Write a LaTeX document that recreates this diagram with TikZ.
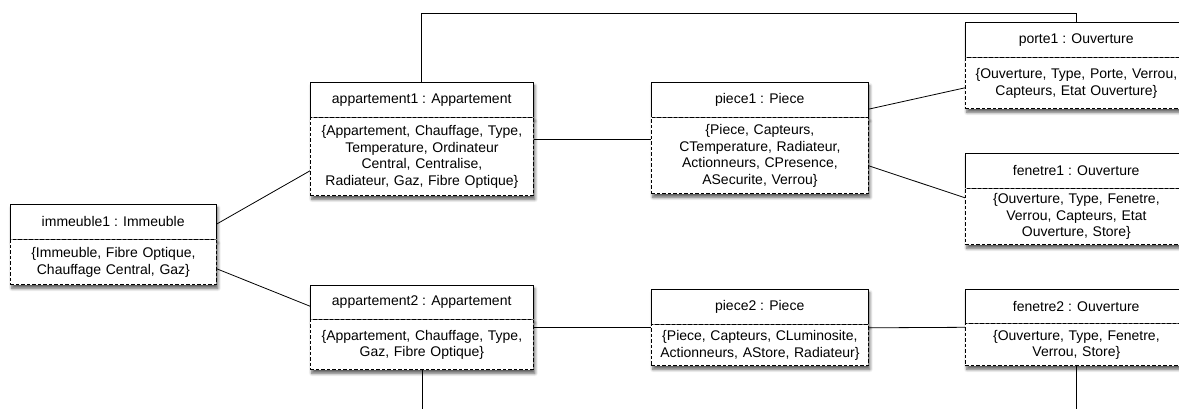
\documentclass[tikz,border=0pt]{standalone}
\usepackage{fontspec}
\setmainfont{Liberation Sans}
\usetikzlibrary{shadows,shadows.blur}
\tikzset{
  objfont/.style={font=\fontsize{14}{16.5}\selectfont},
  shade/.style={blur shadow={shadow xshift=1.5pt, shadow yshift=-3.5pt, shadow blur steps=6, shadow blur radius=3pt, shadow opacity=65}},
  ttl/.style={objfont, fill=white, inner sep=0pt, anchor=north west, align=center, shade},
  bdy/.style={objfont, draw, fill=white, inner sep=0pt, anchor=north west, align=center, dash pattern=on 3.5pt off 2pt, line width=0.8pt, shade},
  edge/.style={line width=0.8pt},
  link/.style={line width=0.8pt}
}
\begin{document}
\begin{tikzpicture}[x=1pt,y=-1pt]
\useasboundingbox (0,0) rectangle (1179,408);
\clip (0,0) rectangle (1179,408);
\coordinate (topy) at (0,13);
\coordinate (boty) at (0,440);

% immeuble1
\node[ttl, minimum width=206pt, minimum height=35pt] (imm-t) at (10,204) {immeuble1 : Immeuble};
\node[bdy, minimum width=206pt, text width=206pt, minimum height=45pt] (imm-b) at (imm-t.south west) {\{Immeuble, Fibre Optique,\\Chauffage Central, Gaz\}};
\draw[edge] (imm-t.south west) |- (imm-t.north east) -- (imm-t.south east);

% appartement1
\node[ttl, minimum width=223pt, minimum height=35pt] (app1-t) at (310,82) {appartement1 : Appartement};
\node[bdy, minimum width=223pt, text width=223pt, minimum height=78pt] (app1-b) at (app1-t.south west) {\{Appartement, Chauffage, Type,\\Temperature, Ordinateur\\Central, Centralise,\\Radiateur, Gaz, Fibre Optique\}};
\draw[edge] (app1-t.south west) |- (app1-t.north east) -- (app1-t.south east);

% piece1
\node[ttl, minimum width=217pt, minimum height=35pt] (piece1-t) at (651,82) {piece1 : Piece};
\node[bdy, minimum width=217pt, text width=217pt, minimum height=76pt] (piece1-b) at (piece1-t.south west) {\{Piece, Capteurs,\\CTemperature, Radiateur,\\Actionneurs, CPresence,\\ASecurite, Verrou\}};
\draw[edge] (piece1-t.south west) |- (piece1-t.north east) -- (piece1-t.south east);

% porte1
\node[ttl, minimum width=222pt, minimum height=35pt] (porte1-t) at (965,22) {porte1 : Ouverture};
\node[bdy, minimum width=222pt, text width=222pt, minimum height=51pt] (porte1-b) at (porte1-t.south west) {\{Ouverture, Type, Porte, Verrou,\\Capteurs, Etat Ouverture\}};
\draw[edge] (porte1-t.south west) |- (porte1-t.north east) -- (porte1-t.south east);

% fenetre1
\node[ttl, minimum width=222pt, minimum height=35pt] (fen1-t) at (965,153) {fenetre1 : Ouverture};
\node[bdy, minimum width=222pt, text width=222pt, minimum height=56pt] (fen1-b) at (fen1-t.south west) {\{Ouverture, Type, Fenetre,\\Verrou, Capteurs, Etat\\Ouverture, Store\}};
\draw[edge] (fen1-t.south west) |- (fen1-t.north east) -- (fen1-t.south east);

% appartement2
\node[ttl, minimum width=223pt, minimum height=34pt] (app2-t) at (310,285) {appartement2 : Appartement};
\node[bdy, minimum width=223pt, text width=223pt, minimum height=50pt] (app2-b) at (app2-t.south west) {\{Appartement, Chauffage, Type,\\Gaz, Fibre Optique\}};
\draw[edge] (app2-t.south west) |- (app2-t.north east) -- (app2-t.south east);

% piece2
\node[ttl, minimum width=217pt, minimum height=35pt] (piece2-t) at (651,289) {piece2 : Piece};
\node[bdy, minimum width=217pt, text width=217pt, minimum height=41pt] (piece2-b) at (piece2-t.south west) {\{Piece, Capteurs, CLuminosite,\\Actionneurs, AStore, Radiateur\}};
\draw[edge] (piece2-t.south west) |- (piece2-t.north east) -- (piece2-t.south east);

% fenetre2
\node[ttl, minimum width=222pt, minimum height=34pt] (fen2-t) at (965,289) {fenetre2 : Ouverture};
\node[bdy, minimum width=222pt, text width=222pt, minimum height=42pt] (fen2-b) at (fen2-t.south west) {\{Ouverture, Type, Fenetre,\\Verrou, Store\}};
\draw[edge] (fen2-t.south west) |- (fen2-t.north east) -- (fen2-t.south east);

% connectors
\draw[link] ([yshift=-2.5pt]imm-t.east) -- ([yshift=-14pt]app1-b.west);
\draw[link] ([yshift=-6.5pt]imm-b.east) -- ([yshift=-4pt]app2-t.west);
\draw[link] ([yshift=17pt]app1-b.east) -- ([yshift=16pt]piece1-b.west);
\draw[link] ([yshift=-9.5pt]piece1-t.east) -- ([yshift=-4.5pt]porte1-b.west);
\draw[link] ([yshift=-10pt]piece1-b.east) -- ([yshift=19pt]fen1-b.west);
\draw[link] ([yshift=17pt]app2-b.east) -- ([yshift=17.5pt]piece2-b.west);
\draw[link] ([yshift=17.5pt]piece2-b.east) -- ([yshift=17.5pt]fen2-b.west);
\draw[link] (app1-t.north) -- (app1-t.north |- topy) -| (porte1-t.north);
\draw[link] (app2-b.south) -- (app2-b.south |- boty) -| (fen2-b.south);
\end{tikzpicture}
\end{document}
